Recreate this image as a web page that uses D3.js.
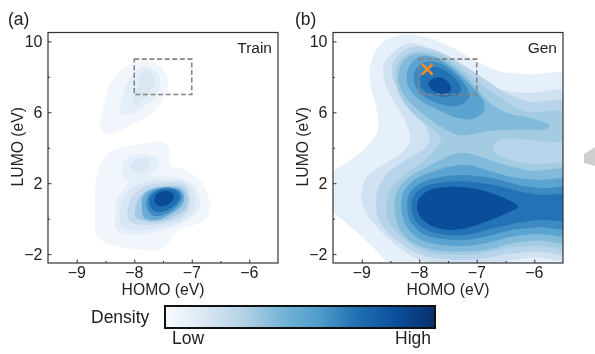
<!DOCTYPE html>
<html><head><meta charset="utf-8">
<script src="https://cdn.jsdelivr.net/npm/d3@7"></script>
<style>html,body{margin:0;padding:0;background:#fff}svg{display:block;filter:blur(.35px)}
text{font-family:"Liberation Sans",Arial,sans-serif;fill:#222}</style></head>
<body><svg id="c" width="595" height="354"></svg>
<script>
// Tick values and text
const xTicks=[-9,-8,-7,-6], xMinor=[-8.5,-7.5,-6.5];
const yTicks=[-2,2,6,10], yMinor=[0,4,8];
const boxHomo=[-8,-7], boxLumo=[7,9];
const crossPoint=[-7.86,8.42];
const palette=["#e6f0fa","#d0e1f2","#b7d4ea","#a3cce3","#82badb","#5ba3d0","#3d8ac3","#2272b5","#0a4d9a"];
const paletteTrain=["#f1f6fc","#e4eef8","#d9e6f3","#c5daed","#a2c8e3","#6aaad5","#3d8cc5","#1f6db1","#0a4a97"];
const barStops=["#f7fbff","#dbe7f4","#b5d3e6","#78b5d6","#4e9ccb","#1f6fb2","#0b4f9c","#08306b"];

// Train contours [HOMO, LUMO]
const tLow1=[[-8.68,1.42],[-8.65,2.54],[-8.48,3.58],[-8.19,4.05],[-7.84,4.23],[-7.49,4.33],[-7.38,3.86],[-7.38,3.01],[-7.09,2.73],[-6.83,2.07],[-6.68,.67],[-6.77,-.08],[-7.26,-.74],[-7.49,-1.68],[-7.78,-1.77],[-8.36,-1.49],[-8.65,-1.02],[-8.68,-.08]];
const tLow2=[[-8.33,.29],[-8.28,1.23],[-8.10,2.08],[-8.19,2.45],[-8.22,3.01],[-8.10,3.48],[-7.84,3.63],[-7.61,3.48],[-7.56,3.01],[-7.72,2.45],[-7.32,2.36],[-6.97,1.89],[-6.85,1.04],[-6.91,.29],[-7.20,-.27],[-7.61,-.74],[-8.01,-.93],[-8.30,-.65]];
const tBlob3=[[-8.08,2.98],[-7.98,3.30],[-7.78,3.43],[-7.71,3.16],[-7.78,2.83],[-7.96,2.64]];
const tLow3=[[-8.25,.29],[-8.18,1.23],[-7.90,1.98],[-7.49,2.17],[-7.09,2.02],[-6.94,1.23],[-6.97,.38],[-7.20,-.18],[-7.61,-.50],[-8.01,-.65],[-8.22,-.37]];
const tLow4=[[-8.12,.29],[-8.05,1.14],[-7.84,1.79],[-7.49,2.02],[-7.14,1.93],[-7.03,1.23],[-7.06,.48],[-7.26,-.05],[-7.61,-.31],[-7.96,-.31],[-8.10,-.08]];
const tLow5=[[-7.99,.29],[-7.94,1.04],[-7.78,1.61],[-7.49,1.83],[-7.17,1.76],[-7.07,1.23],[-7.11,.57],[-7.32,.10],[-7.61,-.18],[-7.87,-.08],[-7.98,.10]];
const tLow6=[[-7.87,.67],[-7.85,1.23],[-7.70,1.64],[-7.46,1.76],[-7.20,1.64],[-7.13,1.23],[-7.17,.76],[-7.35,.29],[-7.61,-.08],[-7.81,.01],[-7.86,.29]];
const tLow7=[[-7.79,.85],[-7.75,1.32],[-7.61,1.64],[-7.38,1.76],[-7.20,1.51],[-7.17,1.14],[-7.26,.67],[-7.43,.29],[-7.64,.14],[-7.75,.38]];
const tLow8=[[-7.74,.95],[-7.72,1.23],[-7.58,1.61],[-7.32,1.64],[-7.21,1.32],[-7.26,.85],[-7.43,.48],[-7.61,.38],[-7.70,.57]];
const tLow9=[[-7.65,1.14],[-7.58,1.46],[-7.41,1.55],[-7.31,1.32],[-7.35,.95],[-7.49,.70],[-7.62,.82]];
const tUp1=[[-8.59,5.36],[-8.52,6.49],[-8.39,7.80],[-8.19,8.46],[-7.90,8.89],[-7.61,8.74],[-7.43,8.08],[-7.43,7.24],[-7.58,6.30],[-7.78,5.74],[-8.07,5.27],[-8.36,4.80],[-8.54,4.89]];
const tUp2=[[-8.25,6.30],[-8.18,7.24],[-8.04,8.08],[-7.84,8.55],[-7.61,8.27],[-7.55,7.61],[-7.64,6.86],[-7.84,6.30],[-8.07,5.87],[-8.22,5.93]];
const tUp3=[[-8.01,6.68],[-7.93,7.43],[-7.90,8.08],[-7.78,8.37],[-7.67,8.08],[-7.65,7.61],[-7.75,7.05],[-7.90,6.58],[-7.99,6.39]];
const trainLayers=[[0,tLow1],[0,tUp1],[1,tLow2],[1,tUp2],[2,tUp3],[2,tBlob3],[2,tLow3],[3,tLow4],[4,tLow5],[5,tLow6],[6,tLow7],[7,tLow8],[8,tLow9]];

// Gen contours [HOMO, LUMO]
const g1=[[-9.7,2.2],[-9.29,3.11],[-8.91,4.05],[-8.72,4.99],[-8.74,6.11],[-8.86,7.80],[-8.81,9.12],[-8.59,10.06],[-8.25,10.36],[-7.84,10.21],[-7.44,9.68],[-7.03,8.93],[-6.63,8.33],[-6.11,8.14],[-5.3,7.95],[-5.2,-3.2],[-8.42,-2.9],[-8.59,-2.34],[-9.06,-.84],[-9.5,.29],[-9.8,.6]];
const g2=[[-9.01,1.23],[-8.91,2.36],[-8.59,3.11],[-8.28,3.77],[-8.16,4.42],[-8.22,5.36],[-8.42,6.49],[-8.61,7.80],[-8.61,8.74],[-8.42,9.49],[-8.16,9.9],[-7.84,9.6],[-7.44,8.75],[-7.03,7.8],[-6.57,7.24],[-6.11,7.09],[-5.33,7.05],[-5.33,-2.22],[-6.02,-2.17],[-6.72,-2.54],[-7.30,-2.79],[-7.76,-2.54],[-8.11,-2.13],[-8.57,-1.02],[-8.92,.29]];
const g3=[[-8.75,.69],[-8.72,1.63],[-8.55,2.57],[-8.22,3.32],[-7.91,3.97],[-7.82,4.44],[-7.87,5.08],[-8.05,5.92],[-8.31,7.05],[-8.48,8.18],[-8.42,9.0],[-8.2,9.6],[-7.96,9.68],[-7.6,9.35],[-7.2,8.6],[-6.85,7.85],[-6.5,7.1],[-6.1,6.6],[-5.33,6.43],[-5.33,-1.90],[-5.91,-1.85],[-6.43,-1.98],[-6.95,-2.28],[-7.41,-2.32],[-7.96,-2.04],[-8.37,-1.28],[-8.69,-.16]];
const g4=[[-8.57,.69],[-8.51,1.63],[-8.25,2.47],[-7.93,3.22],[-7.76,3.79],[-7.63,4.44],[-7.72,4.9],[-8.10,5.9],[-8.33,6.9],[-8.41,7.82],[-8.38,8.7],[-8.2,9.3],[-7.96,9.45],[-7.61,9.2],[-7.26,8.45],[-6.91,7.54],[-6.57,6.79],[-6.16,6.05],[-5.33,5.83],[-5.33,-1.60],[-5.91,-1.53],[-6.48,-1.66],[-6.95,-1.98],[-7.36,-2.04],[-7.88,-1.85],[-8.25,-1.19],[-8.53,-.16]];
const gHole=[[-6.72,3.97],[-6.63,3.60],[-6.37,3.28],[-6.02,3.09],[-5.5,3.17],[-5.2,3.17],[-5.2,4.1],[-5.85,4.35],[-6.3,4.5],[-6.6,4.4]];
const g5Low=[[-8.43,.69],[-8.39,1.53],[-8.20,2.28],[-7.85,2.94],[-7.50,3.51],[-7.24,3.73],[-6.95,3.51],[-6.60,3.13],[-6.08,2.72],[-5.33,2.62],[-5.33,-1.28],[-5.91,-1.23],[-6.37,-1.38],[-6.78,-1.72],[-7.18,-1.85],[-7.70,-1.79],[-8.08,-1.42],[-8.34,-.59]];
const g5Up=[[-8.36,7.73],[-8.33,8.6],[-8.16,9.2],[-7.93,9.3],[-7.61,9.0],[-7.32,8.39],[-7.03,7.45],[-6.80,6.60],[-6.45,5.95],[-6.04,5.66],[-5.73,5.23],[-5.81,5.04],[-6.22,5.01],[-6.74,4.97],[-7.15,4.72],[-7.32,4.72],[-7.67,5.29],[-8.02,6.13],[-8.25,6.88]];
const g6Low=[[-8.31,.69],[-8.27,1.53],[-8.08,2.19],[-7.76,2.66],[-7.24,3.04],[-6.83,2.75],[-6.37,2.34],[-5.91,2.19],[-5.33,2.15],[-5.33,-.87],[-5.91,-.87],[-6.37,-1.0],[-6.78,-1.34],[-7.18,-1.53],[-7.64,-1.47],[-7.99,-1.15],[-8.24,-.34]];
const g6Up=[[-8.22,7.82],[-8.16,8.67],[-7.99,9.14],[-7.75,9.10],[-7.46,8.57],[-7.20,7.82],[-6.88,6.60],[-6.88,6.04],[-7.09,5.61],[-7.38,5.72],[-7.67,6.13],[-7.99,6.70],[-8.16,7.26]];
const g7Low=[[-8.21,.69],[-8.17,1.44],[-7.98,2.0],[-7.64,2.34],[-7.24,2.47],[-6.72,2.28],[-6.20,1.85],[-5.85,1.72],[-5.33,1.68],[-5.33,-.48],[-5.91,-.48],[-6.37,-.63],[-6.78,-.96],[-7.18,-1.19],[-7.59,-1.15],[-7.93,-.87],[-8.15,-.16]];
const g7Up=[[-8.10,7.82],[-8.05,8.48],[-7.87,8.86],[-7.64,8.76],[-7.38,8.20],[-7.18,7.45],[-7.13,6.88],[-7.25,6.47],[-7.46,6.36],[-7.75,6.60],[-7.99,7.07]];
const g8Low=[[-8.14,.69],[-8.08,1.35],[-7.91,1.81],[-7.59,2.04],[-7.18,2.10],[-6.72,1.91],[-6.25,1.53],[-5.91,1.35],[-5.33,1.25],[-5.33,-.03],[-5.91,-.06],[-6.37,-.29],[-6.78,-.59],[-7.18,-.91],[-7.53,-.91],[-7.88,-.63],[-8.08,-.03]];
const g8Up=[[-7.99,7.64],[-7.94,8.20],[-7.78,8.54],[-7.58,8.42],[-7.38,7.92],[-7.27,7.35],[-7.32,7.03],[-7.52,6.88],[-7.75,6.98],[-7.93,7.26]];
const g9Low=[[-8.04,.69],[-7.98,1.25],[-7.79,1.63],[-7.50,1.78],[-7.18,1.76],[-6.83,1.53],[-6.48,1.10],[-6.32,.82],[-6.28,.69],[-6.32,.56],[-6.48,.31],[-6.83,-.16],[-7.18,-.53],[-7.50,-.63],[-7.79,-.40],[-7.98,.09]];
const g9Up=[[-7.84,7.64],[-7.75,7.92],[-7.61,7.95],[-7.48,7.64],[-7.45,7.26],[-7.55,7.03],[-7.70,7.11],[-7.81,7.35]];
const genLayers=[[0,g1],[1,g2],[2,g3],[3,g4],[2,gHole],[4,g5Low],[4,g5Up],[5,g6Low],[5,g6Up],[6,g7Low],[6,g7Up],[7,g8Low],[7,g8Up],[8,g9Low],[8,g9Up]];

const svg=d3.select("#c");
const W=230,H=230.5;
const x=d3.scaleLinear().domain([-9.5,-5.5]).range([0,W]);
const y=d3.scaleLinear().domain([-2.5,10.5]).range([H,0]);
const path=d3.line().x(d=>x(d[0])).y(d=>y(d[1])).curve(d3.curveCatmullRomClosed.alpha(0.5));
const fmt=d=>String(d).replace("-","\u2212");

function panel(id,left,layers,colors,name,letter,letterX){
  const g=svg.append("g").attr("transform",`translate(${left},32.5)`);
  g.append("clipPath").attr("id",id).append("rect").attr("width",W).attr("height",H);
  const body=g.append("g").attr("clip-path",`url(#${id})`);
  body.selectAll("path").data(layers).join("path")
    .attr("d",d=>path(d[1])).attr("fill",d=>colors[d[0]]);
  g.append("rect").attr("x",x(boxHomo[0])).attr("y",y(boxLumo[1]))
    .attr("width",x(boxHomo[1])-x(boxHomo[0])).attr("height",y(boxLumo[0])-y(boxLumo[1]))
    .attr("fill","none").attr("stroke","#858585").attr("stroke-width",1.6).attr("stroke-dasharray","5 2.6");
  [[d3.axisBottom(x),xTicks,-3.5,`translate(0,${H})`],[d3.axisBottom(x),xMinor,-2,`translate(0,${H})`],
   [d3.axisLeft(y),yTicks,-3.5,""],[d3.axisLeft(y),yMinor,-2,""]].forEach(([gen,v,s,t])=>{
    const a=g.append("g").attr("transform",t).call(gen.tickValues(v).tickSize(s));
    a.select(".domain").remove();
    a.selectAll("line").attr("stroke","#333").attr("stroke-width",1);
    a.selectAll("text").remove();
  });
  g.selectAll(".xl").data(xTicks).join("text").attr("class","xl").attr("x",d=>x(d)).attr("y",H+15)
    .attr("text-anchor","middle").attr("font-size",16).text(fmt);
  g.selectAll(".yl").data(yTicks).join("text").attr("class","yl").attr("x",-5.5).attr("y",d=>y(d)+5.6)
    .attr("text-anchor","end").attr("font-size",16).text(fmt);
  g.append("rect").attr("width",W).attr("height",H).attr("fill","none").attr("stroke","#333").attr("stroke-width",1.2);
  g.append("text").attr("x",W/2).attr("y",H+32).attr("text-anchor","middle").attr("font-size",15.7).text("HOMO (eV)");
  g.append("text").attr("transform",`translate(-25,${H/2-1}) rotate(-90)`).attr("text-anchor","middle").attr("font-size",15.7).text("LUMO (eV)");
  g.append("text").attr("x",W-6).attr("y",20).attr("text-anchor","end").attr("font-size",15.5).text(name);
  svg.append("text").attr("x",letterX).attr("y",25).attr("font-size",17.5).text(letter);
  return g;
}
panel("ca",48,trainLayers,paletteTrain,"Train","(a)",8);
const gb=panel("cb",333,genLayers,palette,"Gen","(b)",295);
gb.append("path").attr("transform",`translate(${x(crossPoint[0])},${y(crossPoint[1])})`)
  .attr("d",d3.symbol().type(d3.symbolX).size(75)()).attr("fill","none").attr("stroke","#f08c2c").attr("stroke-width",2.6);

// Colour bar
const defs=svg.append("defs");
const grad=defs.append("linearGradient").attr("id","bar");
grad.selectAll("stop").data(barStops).join("stop")
  .attr("offset",(d,i)=>i/(barStops.length-1)).attr("stop-color",d=>d);
svg.append("rect").attr("x",165).attr("y",306).attr("width",270).attr("height",22)
  .attr("fill","url(#bar)").attr("stroke","#111").attr("stroke-width",2);
svg.append("text").attr("x",91).attr("y",323).attr("font-size",17.5).text("Density");
svg.append("text").attr("x",172).attr("y",344).attr("font-size",17.5).text("Low");
svg.append("text").attr("x",431).attr("y",344).attr("text-anchor","end").attr("font-size",17.5).text("High");

// Clipped grey arrow at the right edge
svg.append("path").attr("d",d3.line()([[595,147],[584,154],[584,163],[595,166]])).attr("fill","#cfcfcf");
</script></body></html>
